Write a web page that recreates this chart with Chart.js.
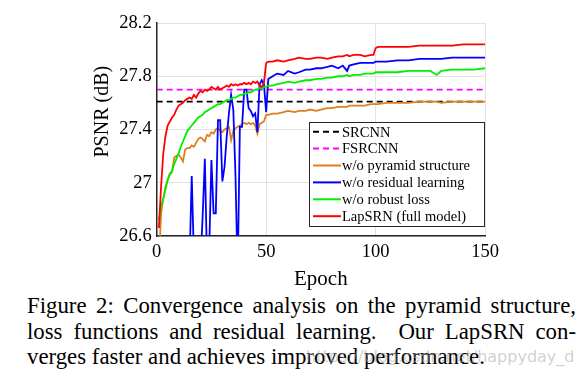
<!DOCTYPE html>
<html>
<head>
<meta charset="utf-8">
<script src="https://cdn.jsdelivr.net/npm/chart.js@4.4.1/dist/chart.umd.min.js"></script>
<style>
  body { margin: 0; background: #fff; width: 582px; height: 388px; overflow: hidden; position: relative; font-family: "Liberation Serif", "Times New Roman", serif; }
  #wrap { position: absolute; left: 0; top: 0; width: 582px; height: 292px; }
  .cap { position: absolute; left: 27px; width: 549px; font-size: 22.8px; line-height: 25px; color: #000; text-align: justify; text-align-last: justify; white-space: nowrap; }
  .cap.last { text-align-last: left; }
  #mark { position: absolute; left: 306px; top: 347px; font-family: "DejaVu Sans", sans-serif; font-size: 16px; color: rgba(170,170,170,0.55); }
</style>
</head>
<body>
<div id="wrap"><canvas id="chart"></canvas></div>
<div class="cap" style="top:293px">Figure 2: Convergence analysis on the pyramid structure,</div>
<div class="cap" style="top:319px">loss functions and residual learning.&nbsp; Our LapSRN con-</div>
<div class="cap last" style="top:344px">verges faster and achieves improved performance.</div>
<div id="mark">https://blog.csdn.net/happyday_d</div>
<script>
const epochs = [1, 2, 3, 4, 5, 6, 7, 8, 9, 10, 11, 12, 13, 14, 15, 16, 17, 18, 19, 20,
  21, 22, 23, 24, 25, 26, 27, 28, 29, 30, 31, 32, 33, 34, 35, 36, 37, 38, 39, 40,
  41, 42, 43, 44, 45, 46, 47, 48, 49, 50,
  51, 53, 55, 58, 60, 63, 65, 68, 70, 73, 75, 78, 80, 83, 85, 87, 88, 90, 93, 95,
  98, 99, 100, 101, 105, 110, 115, 120, 125, 128, 130, 135, 140, 145, 150];

const lapsrn = [26.66, 26.97, 27.22, 27.35, 27.43, 27.46, 27.49, 27.51, 27.55, 27.58,
  27.59, 27.60, 27.62, 27.63, 27.64, 27.63, 27.66, 27.64, 27.67, 27.69,
  27.68, 27.70, 27.69, 27.70, 27.72, 27.71, 27.70, 27.72, 27.70, 27.71,
  27.72, 27.73, 27.72, 27.74, 27.73, 27.74, 27.73, 27.74, 27.74, 27.75,
  27.74, 27.75, 27.74, 27.76, 27.75, 27.76, 27.73, 27.72, 27.75, 27.90,
  27.91, 27.91, 27.92, 27.91, 27.92, 27.93, 27.94, 27.93, 27.93, 27.94,
  27.94, 27.93, 27.94, 27.95, 27.95, 27.96, 27.95, 27.96, 27.96, 27.95,
  27.96, 27.96, 28.01, 28.02, 28.02, 28.02, 28.02, 28.03, 28.03, 28.03,
  28.03, 28.03, 28.04, 28.04, 28.04];

const noRobust = [26.72, 26.82, 26.88, 26.95, 27.02, 27.06, 27.09, 27.14, 27.18, 27.22,
  27.27, 27.31, 27.35, 27.39, 27.41, 27.43, 27.45, 27.47, 27.49, 27.50,
  27.51, 27.53, 27.54, 27.55, 27.56, 27.57, 27.58, 27.59, 27.59, 27.60,
  27.61, 27.62, 27.62, 27.63, 27.64, 27.64, 27.65, 27.66, 27.66, 27.67,
  27.67, 27.68, 27.68, 27.69, 27.70, 27.70, 27.71, 27.71, 27.72, 27.72,
  27.73, 27.73, 27.74, 27.75, 27.76, 27.75, 27.76, 27.77, 27.77, 27.78,
  27.78, 27.79, 27.79, 27.80, 27.80, 27.81, 27.80, 27.81, 27.81, 27.82,
  27.82, 27.82, 27.83, 27.83, 27.83, 27.83, 27.84, 27.84, 27.84, 27.81,
  27.84, 27.85, 27.85, 27.85, 27.86];

const noPyramid = [26.40, 26.77, 26.88, 26.97, 27.02, 27.07, 27.08, 27.19, 27.20, 27.21,
  27.19, 27.16, 27.25, 27.26, 27.26, 27.28, 27.27, 27.30, 27.33, 27.34,
  27.33, 27.31, 27.36, 27.35, 27.38, 27.37, 27.40, 27.41, 27.39, 27.38,
  27.40, 27.41, 27.42, 27.32, 27.39, 27.41, 27.42, 27.43, 27.44, 27.45,
  27.44, 27.45, 27.44, 27.45, 27.43, 27.37, 27.44, 27.45, 27.46, 27.51,
  27.51, 27.52, 27.52, 27.53, 27.54, 27.53, 27.54, 27.54, 27.55, 27.54,
  27.55, 27.56, 27.56, 27.57, 27.57, 27.57, 27.58, 27.58, 27.58, 27.58,
  27.59, 27.59, 27.59, 27.59, 27.60, 27.60, 27.60, 27.61, 27.61, 27.61,
  27.60, 27.61, 27.61, 27.61, 27.61];

const noResidual = [25.0, 25.2, 25.4, 25.5, 25.6, 25.7, 25.8, 25.9, 26.0, 26.0,
  26.1, 26.2, 26.2, 26.3, 26.4, 27.05, 26.45, 26.3, 26.35, 26.4,
  26.75, 27.18, 26.4, 26.5, 27.17, 26.77, 26.77, 27.47, 27.47, 27.01,
  27.12, 27.35, 27.52, 27.66, 27.55, 27.05, 26.3, 27.42, 27.42, 27.70,
  27.70, 27.56, 27.54, 27.50, 27.52, 27.38, 27.74, 27.77, 27.74, 27.53,
  27.78, 27.80, 27.82, 27.81, 27.84, 27.82, 27.83, 27.85, 27.85, 27.86,
  27.86, 27.87, 27.88, 27.86, 27.88, 27.84, 27.88, 27.89, 27.90, 27.90,
  27.90, 27.90, 27.91, 27.91, 27.91, 27.92, 27.92, 27.93, 27.93, 27.93,
  27.93, 27.94, 27.94, 27.94, 27.94];

// baselines (flat)
const srcnnPSNR = 27.61;
const fsrcnnPSNR = 27.70;
const baseEpochs = [0, 150];

const xTicks = [0, 50, 100, 150];
const yTicks = [26.6, 27, 27.4, 27.8, 28.2];

function pts(xs, ys) {
  return xs.map((x, i) => ({ x: x, y: ys[i] }));
}

const legendBox = {
  id: 'legendBox',
  afterDraw(chart) {
    const ctx = chart.ctx;
    const a = chart.chartArea;
    const w = 176, h = 105;
    const x0 = a.right - w, y0 = a.bottom - 9 - h;
    ctx.save();
    ctx.fillStyle = '#fff';
    ctx.fillRect(x0, y0, w, h);
    ctx.strokeStyle = '#262626';
    ctx.lineWidth = 1;
    ctx.strokeRect(x0 + 0.5, y0 + 0.5, w - 1, h - 1);
    ctx.font = '14.5px "Liberation Serif"';
    ctx.textBaseline = 'middle';
    chart.data.datasets.forEach((ds, i) => {
      const y = y0 + 9.7 + i * 16.9;
      ctx.strokeStyle = ds.borderColor;
      ctx.lineWidth = 2;
      ctx.setLineDash(ds.borderDash || []);
      ctx.beginPath();
      ctx.moveTo(x0 + 4, y);
      ctx.lineTo(x0 + 32, y);
      ctx.stroke();
      ctx.setLineDash([]);
      ctx.fillStyle = '#000';
      ctx.fillText(ds.label, x0 + 33, y + 1);
    });
    // y axis title, sits a bit above the middle like the original
    ctx.translate(103, 111.7);
    ctx.rotate(-Math.PI / 2);
    ctx.textAlign = 'center';
    ctx.font = '20px "Liberation Serif"';
    ctx.fillStyle = '#000';
    ctx.fillText('PSNR (dB)', 0, 0);
    ctx.restore();
  }
};

new Chart(document.getElementById('chart'), {
  type: 'line',
  data: {
    datasets: [
      { label: 'SRCNN', data: pts(baseEpochs, [srcnnPSNR, srcnnPSNR]), borderColor: '#000000', borderDash: [6, 4], order: 6 },
      { label: 'FSRCNN', data: pts(baseEpochs, [fsrcnnPSNR, fsrcnnPSNR]), borderColor: '#ff00ff', borderDash: [6, 4], order: 5 },
      { label: 'w/o pyramid structure', data: pts(epochs, noPyramid), borderColor: '#dd7f1f', order: 4 },
      { label: 'w/o residual learning', data: pts(epochs, noResidual), borderColor: '#0000ff', order: 3 },
      { label: 'w/o robust loss', data: pts(epochs, noRobust), borderColor: '#00ee00', order: 2 },
      { label: 'LapSRN (full model)', data: pts(epochs, lapsrn), borderColor: '#ff0000', order: 1 }
    ]
  },
  options: {
    responsive: true,
    maintainAspectRatio: false,
    animation: false,
    layout: { padding: { left: 0, top: 23, right: 97, bottom: 0 } },
    elements: {
      line: { borderWidth: 1.8, tension: 0 },
      point: { radius: 0 }
    },
    plugins: { legend: { display: false }, tooltip: { enabled: false } },
    scales: {
      x: {
        type: 'linear',
        min: 0,
        max: 150,
        afterBuildTicks: s => { s.ticks = xTicks.map(v => ({ value: v })); },
        afterFit: s => { s.height = 56; },
        grid: { color: '#e2e2e2', drawTicks: false },
        border: { color: '#262626', width: 1.5 },
        ticks: { color: '#000', padding: 5, font: { family: 'Liberation Serif', size: 18.5 } },
        title: { display: true, text: 'Epoch', color: '#000', padding: 0, font: { family: 'Liberation Serif', size: 21 } }
      },
      y: {
        min: 26.6,
        max: 28.2,
        afterBuildTicks: s => { s.ticks = yTicks.map(v => ({ value: v })); },
        afterFit: s => { s.width = 156.7; },
        grid: { color: '#e2e2e2', drawTicks: false },
        border: { color: '#262626', width: 1.5 },
        ticks: {
          color: '#000', padding: 5, font: { family: 'Liberation Serif', size: 18.5 },
          callback: v => String(+v.toFixed(1))
        }
      }
    }
  },
  plugins: [legendBox]
});
</script>
</body>
</html>
